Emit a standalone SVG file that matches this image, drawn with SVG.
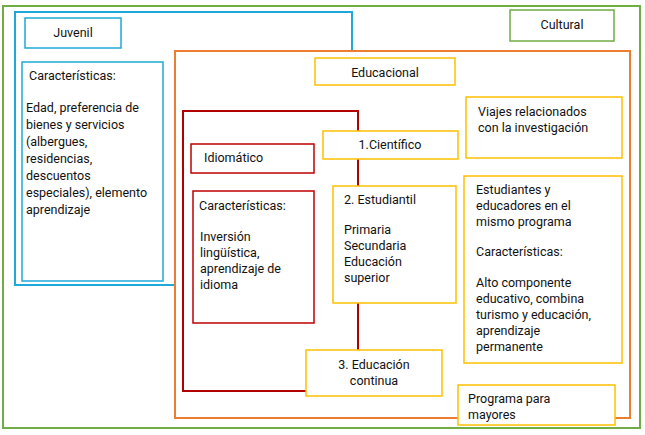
<svg xmlns="http://www.w3.org/2000/svg" width="645" height="435" viewBox="0 0 645 435">
<style>
rect{fill:none;stroke-width:1.5}
.g{stroke:#70ad47}.b{stroke:#1fa9d8}.o{stroke:#ed7d31;stroke-width:2}.r{stroke:#c00000}.dr{stroke:#b00000;stroke-width:2}.y{stroke:#ffc000}
text{font-family:Roboto,"Liberation Sans",sans-serif;font-size:12.5px;fill:#111}
.m{text-anchor:middle}
</style>
<rect x="0" y="0" width="645" height="435" style="fill:#fff;stroke:none"/>
<g id="cultural-area"><rect class="g" x="3" y="6" width="637" height="422" style="stroke-width:2"/></g>
<g id="cultural"><rect class="g" x="510" y="10" width="104" height="31"/><text class="m" x="562" y="29">Cultural</text></g>
<g id="juvenil-area"><rect class="b" x="15" y="12" width="337" height="273" style="stroke-width:2"/></g>
<g id="juvenil"><rect class="b" x="25" y="18" width="96" height="30"/><text class="m" x="73" y="37">Juvenil</text></g>
<g id="juvenil-car"><rect class="b" x="22" y="62" width="141" height="219"/>
<text x="29" y="80">Características:</text>
<text x="26" y="112">Edad, preferencia de</text><text x="26" y="129">bienes y servicios</text><text x="26" y="146">(albergues,</text><text x="26" y="163">residencias,</text><text x="26" y="180">descuentos</text><text x="26" y="197">especiales), elemento</text><text x="26" y="214">aprendizaje</text></g>
<g id="educ-area"><rect class="o" x="175" y="51" width="455" height="367" style="fill:#fff"/></g>
<g id="educacional"><rect class="y" x="315" y="58" width="140" height="27"/><text class="m" x="385" y="77">Educacional</text></g>
<g id="idiom-area"><rect class="dr" x="183" y="111" width="175" height="280"/></g>
<g id="idiomatico"><rect class="r" x="191" y="144" width="123" height="29"/><text x="204" y="162">Idiomático</text></g>
<g id="idiom-car"><rect class="r" x="193" y="191" width="121" height="132"/>
<text x="199" y="210">Características:</text>
<text x="200" y="241">Inversión</text><text x="200" y="257">lingüística,</text><text x="200" y="273">aprendizaje de</text><text x="200" y="289">idioma</text></g>
<g id="cientifico"><rect class="y" x="323" y="131" width="135" height="28" style="fill:#fff"/><text class="m" x="390" y="149">1.Científico</text></g>
<g id="estudiantil"><rect class="y" x="333" y="186" width="123" height="117" style="fill:#fff"/>
<text x="344" y="204">2. Estudiantil</text><text x="344" y="234">Primaria</text><text x="344" y="250">Secundaria</text><text x="344" y="266">Educación</text><text x="344" y="282">superior</text></g>
<g id="continua"><rect class="y" x="306" y="350" width="136" height="46" style="fill:#fff"/><text class="m" x="374" y="369">3. Educación</text><text class="m" x="374" y="385">continua</text></g>
<g id="viajes"><rect class="y" x="466" y="97" width="156" height="61"/><text x="478" y="116">Viajes relacionados</text><text x="478" y="132">con la investigación</text></g>
<g id="estudiantes"><rect class="y" x="464" y="176" width="158" height="187"/>
<text x="476" y="194">Estudiantes y</text><text x="476" y="210">educadores en el</text><text x="476" y="226">mismo programa</text><text x="476" y="256">Características:</text>
<text x="476" y="287">Alto componente</text><text x="476" y="303">educativo, combina</text><text x="476" y="319">turismo y educación,</text><text x="476" y="335">aprendizaje</text><text x="476" y="351">permanente</text></g>
<g id="mayores"><rect class="y" x="458" y="385" width="157" height="40" style="fill:#fff"/><text x="468" y="403">Programa para</text><text x="468" y="419">mayores</text></g>
<g id="connectors"></g>
</svg>
